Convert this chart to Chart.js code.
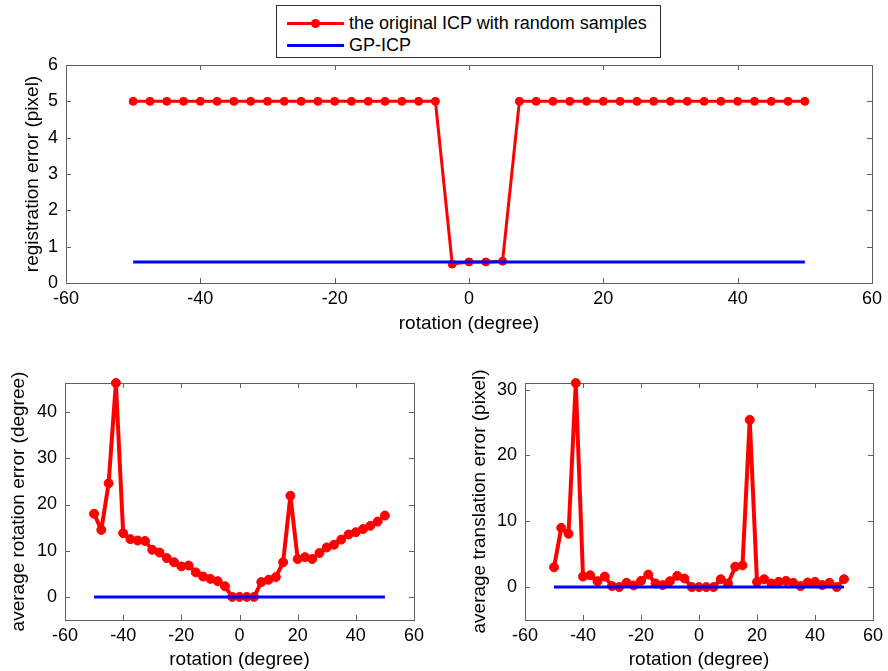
<!DOCTYPE html>
<html>
<head>
<meta charset="utf-8">
<script src="https://cdn.jsdelivr.net/npm/chart.js@4.4.0/dist/chart.umd.min.js"></script>
<style>
  html, body { margin: 0; padding: 0; background: #fff; }
  #page { position: relative; width: 888px; height: 671px; overflow: hidden;
          font-family: "Liberation Sans", Arial, sans-serif; }
  #page canvas { position: absolute; }
  #legend { position: absolute; left: 276px; top: 5px; width: 385px; height: 53px;
            border: 1px solid #333; background: #fff; box-sizing: border-box; z-index: 2; }
  .row { position: absolute; left: 0; height: 22px; display: flex; align-items: center;
         font-size: 18px; color: #000; white-space: nowrap; }
  .sample { position: relative; width: 57px; height: 3px; margin-left: 10px; margin-right: 5px; }
  .dot { position: absolute; left: 24px; top: -3px; width: 9px; height: 9px; border-radius: 50%; }
</style>
</head>
<body>
<div id="page">
  <canvas id="regChart" width="888" height="345" style="left:0;top:0"></canvas>
  <canvas id="rotChart" width="444" height="326" style="left:0;top:345px"></canvas>
  <canvas id="transChart" width="444" height="326" style="left:444px;top:345px"></canvas>
  <div id="legend"></div>
</div>
<script>
// Rotation angles tested (degrees)
const angles = [-50, -47.5, -45, -42.5, -40, -37.5, -35, -32.5, -30, -27.5, -25, -22.5, -20,
  -17.5, -15, -12.5, -10, -7.5, -5, -2.5, 0, 2.5, 5, 7.5, 10, 12.5, 15, 17.5, 20, 22.5,
  25, 27.5, 30, 32.5, 35, 37.5, 40, 42.5, 45, 47.5, 50];

// Registration error of the original ICP with random samples (pixel)
const icpRegError = [5, 5, 5, 5, 5, 5, 5, 5, 5, 5, 5, 5, 5, 5, 5, 5, 5, 5, 5,
  0.52, 0.58, 0.58, 0.6,
  5, 5, 5, 5, 5, 5, 5, 5, 5, 5, 5, 5, 5, 5, 5, 5, 5, 5];

// Average rotation error of the original ICP (degree)
const icpRotError = [18.0, 14.5, 24.6, 46.3, 13.8, 12.5, 12.2, 12.1, 10.2, 9.6, 8.4, 7.5, 6.6,
  6.8, 5.3, 4.4, 3.9, 3.4, 2.3, 0, 0, 0, 0, 3.2, 3.7, 4.3, 7.5, 21.9, 8.2, 8.6,
  8.2, 9.5, 10.7, 11.3, 12.4, 13.5, 14.0, 14.7, 15.4, 16.3, 17.6];

// Average translation error of the original ICP (pixel)
const icpTransError = [3.0, 9.0, 8.1, 31.0, 1.6, 1.8, 0.9, 1.6, 0.15, 0, 0.65, 0.25, 0.95,
  1.9, 0.55, 0.3, 0.9, 1.7, 1.3, 0, 0, 0, 0, 1.2, 0.55, 3.1, 3.3, 25.4, 0.8, 1.2,
  0.55, 0.8, 0.95, 0.65, 0.15, 0.7, 0.8, 0.3, 0.65, 0, 1.2];

// GP-ICP results: constant over the whole angle range
const gpAngles = [-50, 50];
const gpRegError = [0.58, 0.58];
const gpRotError = [0, 0];
const gpTransError = [0, 0];

// Tick labels
const xTicks = [-60, -40, -20, 0, 20, 40, 60];
const regTicks = [0, 1, 2, 3, 4, 5, 6];
const rotTicks = [0, 10, 20, 30, 40];
const transTicks = [0, 10, 20, 30];

const seriesNames = ['the original ICP with random samples', 'GP-ICP'];
const icpColor = '#ff0000';
const gpColor = '#0000ff';
const frameColor = '#606060';
const FONT = '"Liberation Sans", Arial, sans-serif';

Chart.defaults.font.family = FONT;
Chart.defaults.color = '#000';

const toPoints = (xs, ys) => xs.map((x, i) => ({ x: x, y: ys[i] }));

// MATLAB-like box: frame on all four sides with inward tick marks
const frameBox = {
  id: 'frameBox',
  beforeDatasetsDraw(chart) {
    const { ctx, chartArea: a, scales: { x, y } } = chart;
    const L = 5;
    ctx.save();
    ctx.strokeStyle = frameColor;
    ctx.lineWidth = 1;
    ctx.strokeRect(Math.round(a.left) + 0.5, Math.round(a.top) + 0.5,
      Math.round(a.right - a.left), Math.round(a.bottom - a.top));
    ctx.beginPath();
    x.ticks.forEach(t => {
      const px = Math.round(x.getPixelForValue(t.value)) + 0.5;
      ctx.moveTo(px, a.bottom); ctx.lineTo(px, a.bottom - L);
      ctx.moveTo(px, a.top); ctx.lineTo(px, a.top + L);
    });
    y.ticks.forEach(t => {
      const py = Math.round(y.getPixelForValue(t.value)) + 0.5;
      ctx.moveTo(a.left, py); ctx.lineTo(a.left + L, py);
      ctx.moveTo(a.right, py); ctx.lineTo(a.right - L, py);
    });
    ctx.stroke();
    ctx.restore();
  }
};

function xAxis(height, titlePadBottom) {
  return {
    type: 'linear', min: xTicks[0], max: xTicks[xTicks.length - 1],
    afterBuildTicks: s => { s.ticks = xTicks.map(v => ({ value: v })); },
    afterFit: s => { s.height = height; },
    grid: { display: false, drawTicks: false }, border: { display: false },
    ticks: { font: { size: 18 }, padding: 5, maxRotation: 0, autoSkip: false },
    title: { display: true, text: 'rotation (degree)', font: { size: 19 },
             padding: { top: 0, bottom: titlePadBottom } }
  };
}

function yAxis(tickVals, min, max, width, titleText, titlePadLeft) {
  return {
    type: 'linear', min: min, max: max,
    afterBuildTicks: s => { s.ticks = tickVals.map(v => ({ value: v })); },
    afterFit: s => { s.width = width; },
    grid: { display: false, drawTicks: false }, border: { display: false },
    ticks: { font: { size: 18 }, padding: 8, autoSkip: false },
    title: { display: true, text: titleText, font: { size: 19 },
             padding: { top: titlePadLeft, bottom: 0 } }
  };
}

function datasets(icpVals, gpVals, lineW, markerR) {
  return [
    { label: seriesNames[0], data: toPoints(angles, icpVals), borderColor: icpColor,
      backgroundColor: icpColor, borderWidth: lineW, pointRadius: markerR,
      pointBorderWidth: 1, pointBorderColor: icpColor, pointStyle: 'circle',
      borderJoinStyle: 'round', borderCapStyle: 'round',
      tension: 0, clip: false, order: 2 },
    { label: seriesNames[1], data: toPoints(gpAngles, gpVals), borderColor: gpColor,
      backgroundColor: gpColor, borderWidth: 3, pointRadius: 0, tension: 0,
      clip: false, order: 1 }
  ];
}

function makeChart(id, ds, xCfg, yCfg, padding) {
  return new Chart(document.getElementById(id), {
    type: 'line',
    data: { datasets: ds },
    options: {
      responsive: false, animation: false, devicePixelRatio: 1,
      layout: { padding: padding },
      plugins: { legend: { display: false }, tooltip: { enabled: false } },
      scales: { x: xCfg, y: yCfg }
    },
    plugins: [frameBox]
  });
}

const regChart = makeChart('regChart',
  datasets(icpRegError, gpRegError, 3, 4),
  xAxis(62, 10),
  yAxis(regTicks, 0, 6, 66, 'registration error (pixel)', 21),
  { left: 0, top: 65, right: 16, bottom: 0 });

makeChart('rotChart',
  datasets(icpRotError, gpRotError, 4, 4.5),
  xAxis(51, 0),
  yAxis(rotTicks, -5, 46.3, 65, 'average rotation error (degree)', 7),
  { left: 0, top: 38, right: 30, bottom: 0 });

makeChart('transChart',
  datasets(icpTransError, gpTransError, 4, 4.5),
  xAxis(51, 0),
  yAxis(transTicks, -5, 31, 81, 'average translation error (pixel)', 24),
  { left: 0, top: 38, right: 14, bottom: 0 });

// Legend built from the top chart's series
const legend = document.getElementById('legend');
regChart.data.datasets.forEach((d, i) => {
  const row = document.createElement('div');
  row.className = 'row';
  row.style.top = (6 + i * 22) + 'px';
  const sample = document.createElement('div');
  sample.className = 'sample';
  sample.style.background = d.borderColor;
  if (d.pointRadius > 0) {
    const dot = document.createElement('div');
    dot.className = 'dot';
    dot.style.background = d.borderColor;
    sample.appendChild(dot);
  }
  const label = document.createElement('span');
  label.textContent = d.label;
  row.appendChild(sample);
  row.appendChild(label);
  legend.appendChild(row);
});
</script>
</body>
</html>
